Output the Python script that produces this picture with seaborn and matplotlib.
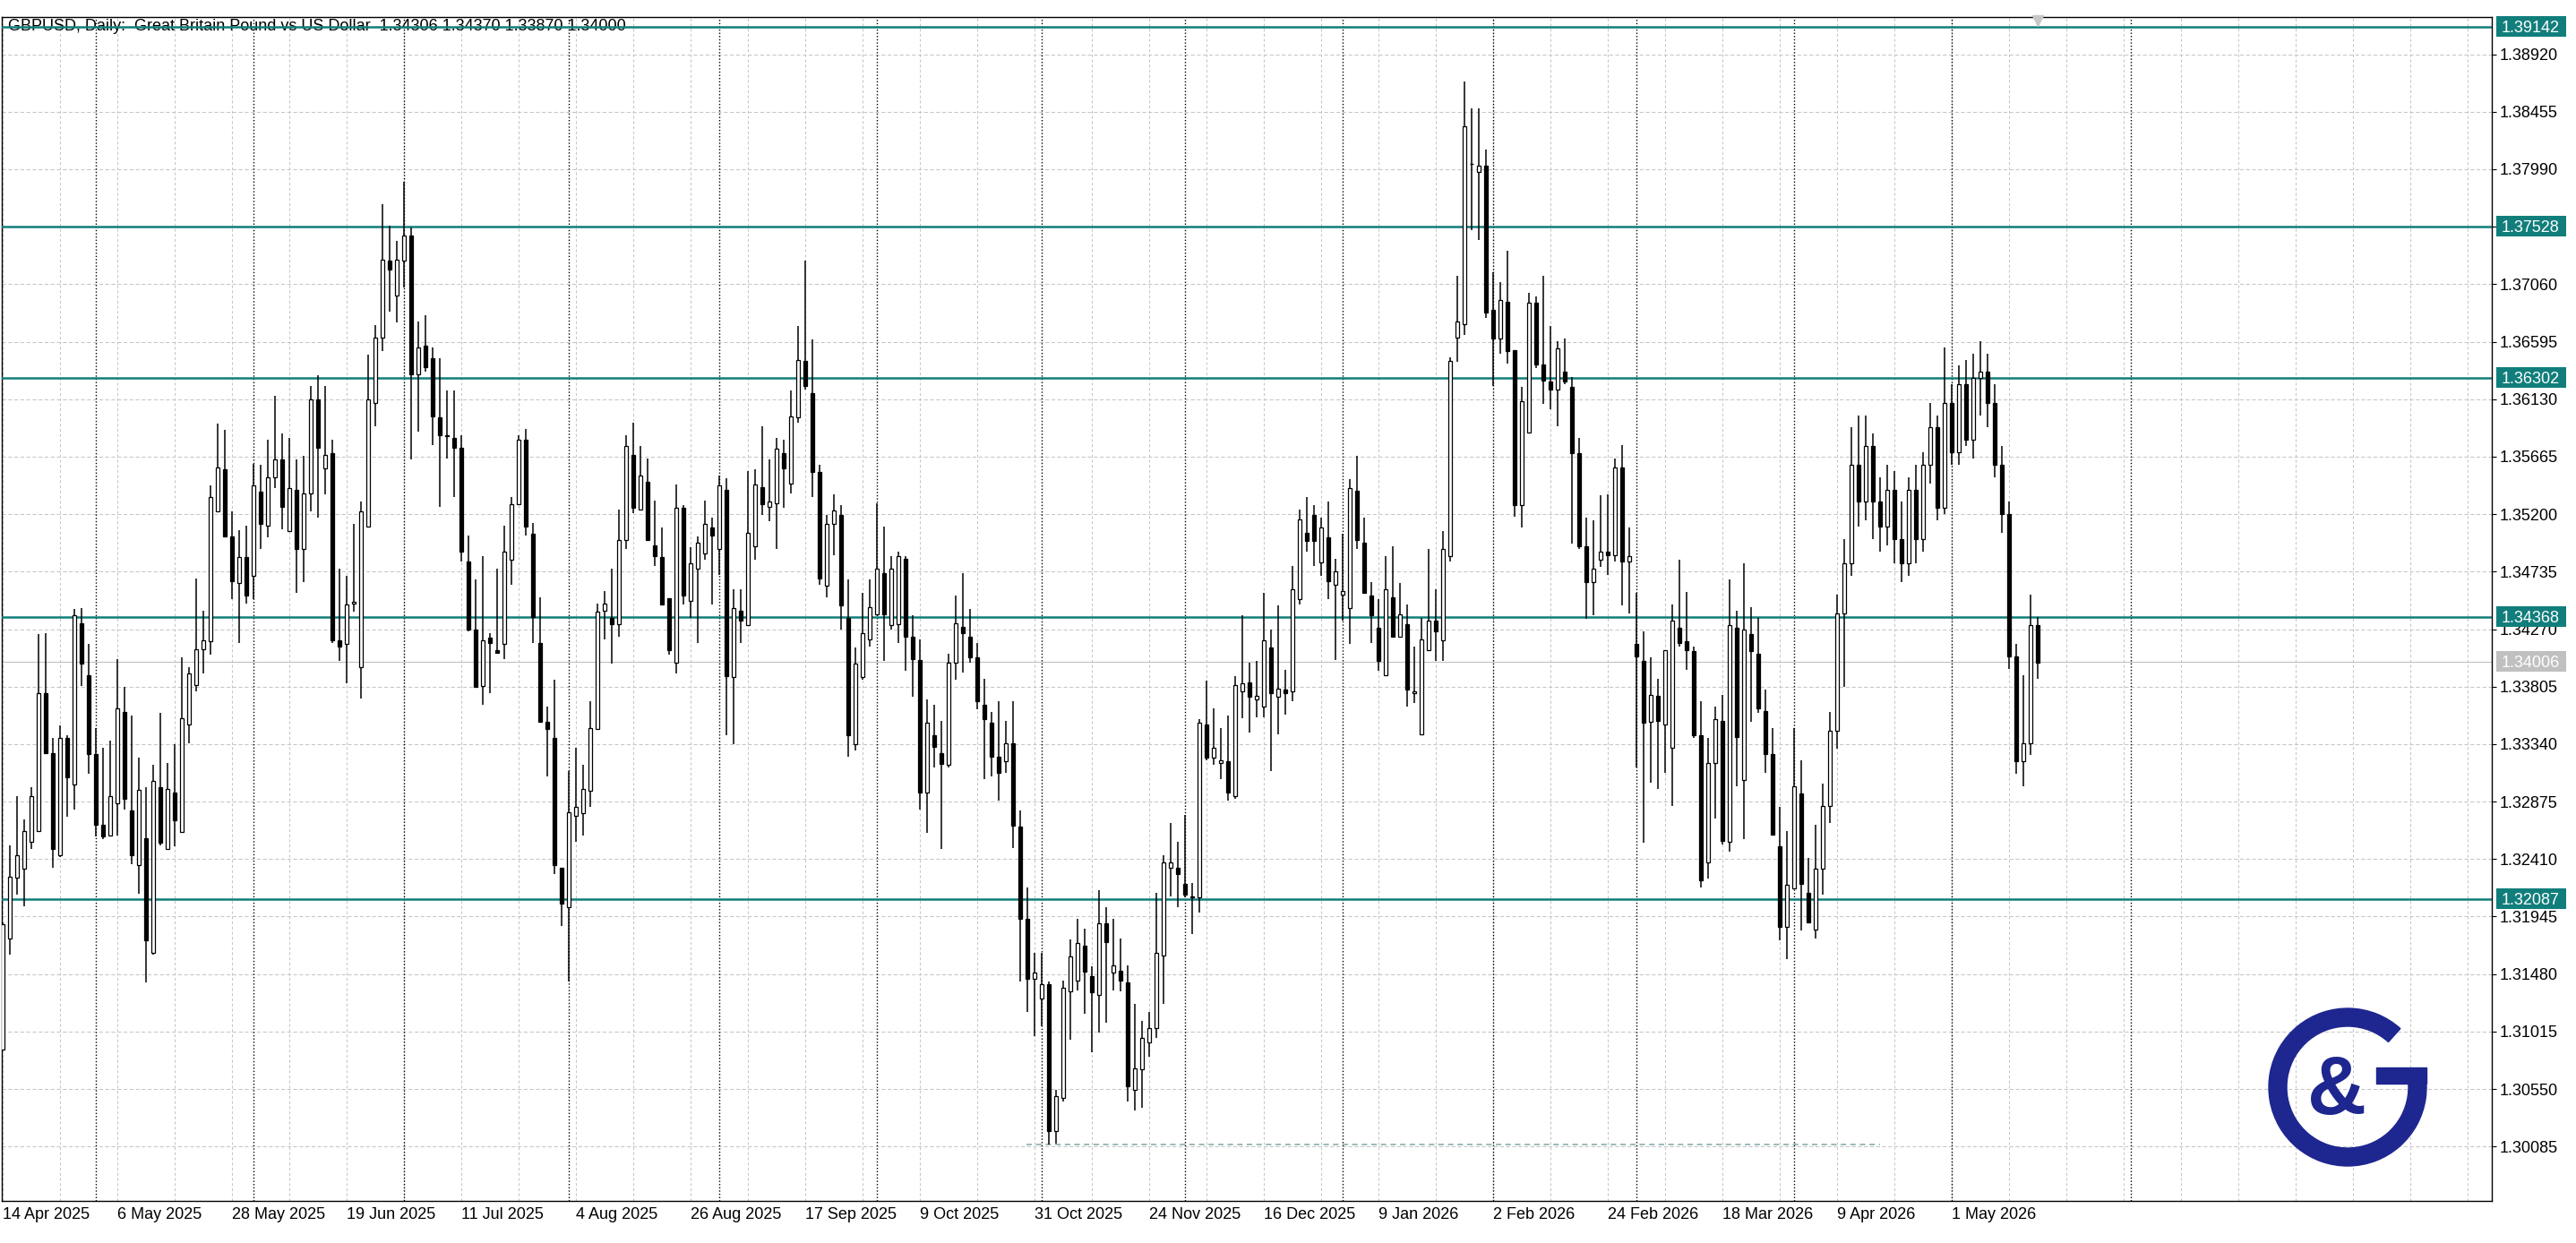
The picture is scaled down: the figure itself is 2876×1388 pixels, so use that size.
import numpy as np
import pandas as pd
import seaborn as sns
import matplotlib.pyplot as plt
from matplotlib.patches import Rectangle, Wedge
from matplotlib.transforms import blended_transform_factory

# daily GBPUSD candles (index = trading day from 14 Apr 2025)
opens = [
    1.3087, 1.3177, 1.3226, 1.3233, 1.3255, 1.3264, 1.3375, 1.3327, 1.3244, 1.3339,
    1.3301, 1.3432, 1.3390, 1.3326, 1.3269, 1.3260, 1.3286, 1.3360, 1.3280, 1.3236,
    1.3258, 1.3165, 1.3299, 1.3249, 1.3295, 1.3263, 1.3350, 1.3382, 1.3411, 1.3417,
    1.3522, 1.3556, 1.3502, 1.3464, 1.3485, 1.3470, 1.3538, 1.3511, 1.3550, 1.3564,
    1.3506, 1.3540, 1.3492, 1.3537, 1.3613, 1.3557, 1.3569, 1.3418, 1.3415, 1.3448,
    1.3396, 1.3510, 1.3610, 1.3663, 1.3725, 1.3697, 1.3725, 1.3745, 1.3633, 1.3656,
    1.3646, 1.3598, 1.3584, 1.3582, 1.3574, 1.3482, 1.3427, 1.3381, 1.3420, 1.3410,
    1.3415, 1.3483, 1.3528, 1.3580, 1.3504, 1.3416, 1.3352, 1.3339, 1.3234, 1.3202,
    1.3276, 1.3278, 1.3296, 1.3346, 1.3442, 1.3436, 1.3431, 1.3499, 1.3568, 1.3524,
    1.3546, 1.3495, 1.3485, 1.3452, 1.3400, 1.3525, 1.3450, 1.3476, 1.3488, 1.3509,
    1.3492, 1.3540, 1.3388, 1.3442, 1.3430, 1.3494, 1.3542, 1.3526, 1.3529, 1.3569,
    1.3545, 1.3598, 1.3644, 1.3618, 1.3554, 1.3462, 1.3512, 1.3519, 1.3436, 1.3334,
    1.3388, 1.3419, 1.3439, 1.3472, 1.3430, 1.3431, 1.3484, 1.3421, 1.3402, 1.3295,
    1.3341, 1.3327, 1.3317, 1.3400, 1.3429, 1.3421, 1.3404, 1.3366, 1.3351, 1.3324,
    1.3320, 1.3335, 1.3267, 1.3193, 1.3144, 1.3128, 1.3140, 1.3021, 1.3048, 1.3134,
    1.3143, 1.3171, 1.3146, 1.3131, 1.3189, 1.3149, 1.3151, 1.3141, 1.3054, 1.3071,
    1.3093, 1.3104, 1.3163, 1.3234, 1.3234, 1.3221, 1.3211, 1.3210, 1.3350, 1.3323,
    1.3319, 1.3320, 1.3292, 1.3377, 1.3384, 1.3370, 1.3364, 1.3412, 1.3372, 1.3378,
    1.3377, 1.3451, 1.3505, 1.3519, 1.3481, 1.3501, 1.3463, 1.3455, 1.3444, 1.3539,
    1.3497, 1.3454, 1.3428, 1.3390, 1.3453, 1.3421, 1.3431, 1.3375, 1.3342, 1.3410,
    1.3434, 1.3418, 1.3486, 1.3663, 1.3674, 1.3803, 1.3797, 1.3802, 1.3685, 1.3662,
    1.3692, 1.3653, 1.3527, 1.3586, 1.3691, 1.3641, 1.3627, 1.3621, 1.3635, 1.3623,
    1.3569, 1.3494, 1.3465, 1.3483, 1.3490, 1.3487, 1.3558, 1.3482, 1.3415, 1.3401,
    1.3352, 1.3373, 1.3350, 1.3331, 1.3428, 1.3417, 1.3409, 1.3341, 1.3238, 1.3319,
    1.3353, 1.3255, 1.3428, 1.3305, 1.3423, 1.3407, 1.3361, 1.3326, 1.3251, 1.3186,
    1.3217, 1.3294, 1.3214, 1.3184, 1.3233, 1.3284, 1.3345, 1.3440, 1.3480, 1.3560,
    1.3530, 1.3575, 1.3530, 1.3510, 1.3540, 1.3500, 1.3480, 1.3540, 1.3500, 1.3560,
    1.3590, 1.3525, 1.3610, 1.3570, 1.3625, 1.3580, 1.3630, 1.3635, 1.3610, 1.3560,
    1.3520, 1.3405, 1.3320, 1.3335, 1.34306,
]
highs = [
    1.3190, 1.3252, 1.3292, 1.3273, 1.3299, 1.3423, 1.3424, 1.3339, 1.3349, 1.3341,
    1.3443, 1.3444, 1.3415, 1.3347, 1.3331, 1.3337, 1.3403, 1.3380, 1.3357, 1.3323,
    1.3299, 1.3317, 1.3359, 1.3319, 1.3334, 1.3404, 1.3396, 1.3468, 1.3442, 1.3543,
    1.3593, 1.3588, 1.3522, 1.3507, 1.3511, 1.3561, 1.3560, 1.3580, 1.3616, 1.3585,
    1.3582, 1.3564, 1.3567, 1.3624, 1.3632, 1.3624, 1.3580, 1.3476, 1.3470, 1.3512,
    1.3530, 1.3649, 1.3673, 1.3771, 1.3753, 1.3741, 1.3789, 1.3752, 1.3676, 1.3681,
    1.3655, 1.3646, 1.3620, 1.3620, 1.3584, 1.3503, 1.3467, 1.3486, 1.3424, 1.3476,
    1.3511, 1.3534, 1.3584, 1.3589, 1.3513, 1.3453, 1.3364, 1.3386, 1.3234, 1.3312,
    1.3331, 1.3317, 1.3369, 1.3448, 1.3458, 1.3476, 1.3524, 1.3584, 1.3594, 1.3575,
    1.3565, 1.3531, 1.3509, 1.3452, 1.3544, 1.3527, 1.3493, 1.3502, 1.3531, 1.3517,
    1.3551, 1.3549, 1.3459, 1.3459, 1.3555, 1.3556, 1.3591, 1.3564, 1.3582, 1.3580,
    1.3620, 1.3672, 1.3725, 1.3661, 1.3560, 1.3519, 1.3536, 1.3527, 1.3467, 1.3412,
    1.3456, 1.3467, 1.3529, 1.3510, 1.3486, 1.3490, 1.3486, 1.3438, 1.3419, 1.3370,
    1.3366, 1.3353, 1.3407, 1.3454, 1.3472, 1.3443, 1.3416, 1.3387, 1.3360, 1.3369,
    1.3353, 1.3369, 1.3280, 1.3218, 1.3165, 1.3165, 1.3142, 1.3054, 1.3143, 1.3176,
    1.3193, 1.3185, 1.3154, 1.3216, 1.3202, 1.3193, 1.3177, 1.3155, 1.3124, 1.3110,
    1.3117, 1.3214, 1.3244, 1.3270, 1.3255, 1.3277, 1.3222, 1.3354, 1.3385, 1.3363,
    1.3347, 1.3357, 1.3389, 1.3438, 1.3400, 1.3401, 1.3456, 1.3427, 1.3446, 1.3394,
    1.3478, 1.3524, 1.3534, 1.3527, 1.3517, 1.3530, 1.3484, 1.3504, 1.3548, 1.3567,
    1.3517, 1.3465, 1.3451, 1.3486, 1.3494, 1.3464, 1.3447, 1.3413, 1.3436, 1.3492,
    1.3459, 1.3506, 1.3647, 1.3713, 1.3870, 1.3848, 1.3848, 1.3815, 1.3716, 1.3708,
    1.3733, 1.3653, 1.3623, 1.3699, 1.3696, 1.3713, 1.3672, 1.3660, 1.3662, 1.3631,
    1.3582, 1.3517, 1.3515, 1.3535, 1.3536, 1.3565, 1.3576, 1.3509, 1.3456, 1.3425,
    1.3404, 1.3387, 1.3410, 1.3447, 1.3483, 1.3457, 1.3413, 1.3369, 1.3339, 1.3364,
    1.3374, 1.3467, 1.3442, 1.3480, 1.3445, 1.3436, 1.3378, 1.3347, 1.3283, 1.3264,
    1.3347, 1.3321, 1.3242, 1.3269, 1.3302, 1.3360, 1.3455, 1.3500, 1.3590, 1.3600,
    1.3600, 1.3585, 1.3550, 1.3560, 1.3555, 1.3530, 1.3550, 1.3560, 1.3570, 1.3610,
    1.3600, 1.3655, 1.3625, 1.3640, 1.3645, 1.3650, 1.3660, 1.3650, 1.3625, 1.3575,
    1.3530, 1.3415, 1.3390, 1.3455, 1.34370,
]
lows = [
    1.3086, 1.3164, 1.3212, 1.3203, 1.3249, 1.3263, 1.3326, 1.3234, 1.3243, 1.3275,
    1.3281, 1.3381, 1.3310, 1.3259, 1.3257, 1.3260, 1.3260, 1.3281, 1.3237, 1.3213,
    1.3141, 1.3164, 1.3252, 1.3249, 1.3251, 1.3263, 1.3335, 1.3377, 1.3391, 1.3406,
    1.3522, 1.3501, 1.3451, 1.3416, 1.3448, 1.3451, 1.3492, 1.3501, 1.3541, 1.3508,
    1.3506, 1.3456, 1.3465, 1.3522, 1.3517, 1.3536, 1.3416, 1.3401, 1.3383, 1.3441,
    1.3371, 1.3510, 1.3591, 1.3652, 1.3684, 1.3675, 1.3703, 1.3564, 1.3587, 1.3635,
    1.3576, 1.3526, 1.3565, 1.3534, 1.3482, 1.3425, 1.3380, 1.3366, 1.3375, 1.3407,
    1.3403, 1.3463, 1.3527, 1.3503, 1.3416, 1.3352, 1.3308, 1.3229, 1.3187, 1.3142,
    1.3255, 1.3260, 1.3283, 1.3346, 1.3419, 1.3399, 1.3421, 1.3492, 1.3521, 1.3524,
    1.3499, 1.3478, 1.3447, 1.3406, 1.3391, 1.3447, 1.3436, 1.3416, 1.3483, 1.3447,
    1.3471, 1.3341, 1.3334, 1.3416, 1.3430, 1.3483, 1.3519, 1.3514, 1.3492, 1.3525,
    1.3537, 1.3594, 1.3621, 1.3534, 1.3463, 1.3453, 1.3487, 1.3427, 1.3324, 1.3329,
    1.3386, 1.3413, 1.3439, 1.3401, 1.3427, 1.3416, 1.3393, 1.3372, 1.3281, 1.3262,
    1.3315, 1.3249, 1.3315, 1.3386, 1.3392, 1.3400, 1.3362, 1.3306, 1.3308, 1.3288,
    1.3311, 1.3250, 1.3142, 1.3117, 1.3098, 1.3106, 1.3010, 1.3011, 1.3045, 1.3095,
    1.3135, 1.3116, 1.3085, 1.3101, 1.3109, 1.3135, 1.3134, 1.3045, 1.3038, 1.3040,
    1.3081, 1.3096, 1.3124, 1.3211, 1.3202, 1.3210, 1.3180, 1.3198, 1.3321, 1.3317,
    1.3306, 1.3288, 1.3290, 1.3355, 1.3343, 1.3356, 1.3356, 1.3312, 1.3342, 1.3358,
    1.3369, 1.3447, 1.3490, 1.3478, 1.3470, 1.3451, 1.3402, 1.3434, 1.3415, 1.3492,
    1.3456, 1.3416, 1.3393, 1.3390, 1.3421, 1.3421, 1.3364, 1.3367, 1.3342, 1.3410,
    1.3401, 1.3401, 1.3482, 1.3643, 1.3665, 1.3750, 1.3742, 1.3679, 1.3624, 1.3650,
    1.3642, 1.3518, 1.3509, 1.3586, 1.3638, 1.3609, 1.3605, 1.3591, 1.3625, 1.3496,
    1.3492, 1.3435, 1.3438, 1.3477, 1.3471, 1.3482, 1.3446, 1.3440, 1.3315, 1.3254,
    1.3303, 1.3298, 1.3311, 1.3284, 1.3413, 1.3394, 1.3339, 1.3218, 1.3225, 1.3274,
    1.3253, 1.3247, 1.3300, 1.3257, 1.3352, 1.3359, 1.3311, 1.3261, 1.3175, 1.3160,
    1.3217, 1.3183, 1.3189, 1.3177, 1.3212, 1.3270, 1.3330, 1.3380, 1.3470, 1.3510,
    1.3515, 1.3500, 1.3490, 1.3495, 1.3480, 1.3465, 1.3470, 1.3480, 1.3490, 1.3545,
    1.3515, 1.3520, 1.3560, 1.3560, 1.3575, 1.3565, 1.3600, 1.3590, 1.3550, 1.3505,
    1.3395, 1.3310, 1.3300, 1.3325, 1.33870,
]
closes = [
    1.3188, 1.3227, 1.3244, 1.3264, 1.3292, 1.3375, 1.3327, 1.3249, 1.3339, 1.3307,
    1.3438, 1.3399, 1.3326, 1.3269, 1.3259, 1.3292, 1.3363, 1.3290, 1.3244, 1.3297,
    1.3175, 1.3304, 1.3254, 1.3298, 1.3272, 1.3355, 1.3391, 1.3411, 1.3418, 1.3534,
    1.3558, 1.3502, 1.3466, 1.3485, 1.3454, 1.3543, 1.3512, 1.3550, 1.3564, 1.3526,
    1.3541, 1.3492, 1.3537, 1.3613, 1.3574, 1.3568, 1.3418, 1.3413, 1.3447, 1.3449,
    1.3522, 1.3613, 1.3663, 1.3726, 1.3718, 1.3726, 1.3745, 1.3633, 1.3655, 1.3639,
    1.3599, 1.3584, 1.3583, 1.3574, 1.3490, 1.3427, 1.3380, 1.3418, 1.3416, 1.3408,
    1.3490, 1.3528, 1.3580, 1.3510, 1.3437, 1.3352, 1.3346, 1.3236, 1.3205, 1.3279,
    1.3283, 1.3298, 1.3347, 1.3441, 1.3448, 1.3431, 1.3499, 1.3575, 1.3525, 1.3551,
    1.3499, 1.3486, 1.3447, 1.3410, 1.3525, 1.3454, 1.3480, 1.3497, 1.3512, 1.3503,
    1.3543, 1.3389, 1.3444, 1.3434, 1.3505, 1.3544, 1.3528, 1.3530, 1.3573, 1.3557,
    1.3599, 1.3645, 1.3624, 1.3554, 1.3468, 1.3512, 1.3523, 1.3446, 1.3341, 1.3399,
    1.3424, 1.3445, 1.3476, 1.3439, 1.3476, 1.3486, 1.3421, 1.3403, 1.3295, 1.3351,
    1.3332, 1.3318, 1.3400, 1.3432, 1.3424, 1.3404, 1.3369, 1.3354, 1.3324, 1.3311,
    1.3335, 1.3268, 1.3193, 1.3144, 1.3149, 1.3140, 1.3021, 1.3049, 1.3137, 1.3162,
    1.3173, 1.3150, 1.3133, 1.3189, 1.3174, 1.3155, 1.3143, 1.3057, 1.3072, 1.3096,
    1.3104, 1.3165, 1.3238, 1.3238, 1.3229, 1.3212, 1.3210, 1.3351, 1.3323, 1.3331,
    1.3321, 1.3295, 1.3382, 1.3383, 1.3372, 1.3373, 1.3418, 1.3375, 1.3379, 1.3375,
    1.3459, 1.3516, 1.3498, 1.3498, 1.3509, 1.3466, 1.3474, 1.3458, 1.3541, 1.3499,
    1.3456, 1.3438, 1.3401, 1.3459, 1.3421, 1.3439, 1.3378, 1.3377, 1.3419, 1.3434,
    1.3425, 1.3492, 1.3644, 1.3676, 1.3834, 1.3803, 1.3802, 1.3683, 1.3662, 1.3693,
    1.3652, 1.3527, 1.3611, 1.3691, 1.3641, 1.3628, 1.3621, 1.3654, 1.3627, 1.3569,
    1.3494, 1.3465, 1.3476, 1.3490, 1.3487, 1.3558, 1.3482, 1.3486, 1.3405, 1.3351,
    1.3374, 1.3353, 1.3410, 1.3434, 1.3416, 1.3410, 1.3341, 1.3224, 1.3319, 1.3354,
    1.3256, 1.3430, 1.3340, 1.3427, 1.3409, 1.3363, 1.3326, 1.3261, 1.3186, 1.3220,
    1.3300, 1.3221, 1.3190, 1.3233, 1.3284, 1.3345, 1.3440, 1.3480, 1.3560, 1.3530,
    1.3575, 1.3530, 1.3510, 1.3540, 1.3500, 1.3480, 1.3540, 1.3500, 1.3560, 1.3590,
    1.3525, 1.3610, 1.3570, 1.3625, 1.3580, 1.3630, 1.3635, 1.3610, 1.3560, 1.3520,
    1.3405, 1.3320, 1.3335, 1.3430, 1.34000,
]

date_labels = ['14 Apr 2025', '6 May 2025', '28 May 2025', '19 Jun 2025', '11 Jul 2025',
               '4 Aug 2025', '26 Aug 2025', '17 Sep 2025', '9 Oct 2025', '31 Oct 2025',
               '24 Nov 2025', '16 Dec 2025', '9 Jan 2026', '2 Feb 2026', '24 Feb 2026',
               '18 Mar 2026', '9 Apr 2026', '1 May 2026']
date_label_idx = [0, 16, 32, 48, 64, 80, 96, 112, 128, 144, 160, 176, 192, 208, 224, 240, 256, 272]
month_start_idx = [13, 35, 56, 79, 100, 122, 145, 165, 187, 208, 228, 250, 272, 297]

price_ticks = [1.38920, 1.38455, 1.37990, 1.37525, 1.37060, 1.36595, 1.36130, 1.35665,
               1.35200, 1.34735, 1.34270, 1.33805, 1.33340, 1.32875, 1.32410, 1.31945,
               1.31480, 1.31015, 1.30550, 1.30085]
levels = [1.39142, 1.37528, 1.36302, 1.34368, 1.32087]
bid_price = 1.34006
low_line = 1.30102
title = 'GBPUSD, Daily:  Great Britain Pound vs US Dollar  1.34306 1.34370 1.33870 1.34000'

df = pd.DataFrame({'open': opens, 'high': highs, 'low': lows, 'close': closes})
df['i'] = np.arange(len(df))
df['bull'] = df['close'] >= df['open']

TEAL = '#117e7b'
GRID = '#c6c6c6'
NAVY = '#1e2690'

sns.set_theme(style='white')
plt.rcParams['font.family'] = ['Liberation Sans', 'DejaVu Sans']

W, H = 2876, 1388
fig = plt.figure(figsize=(W / 100, H / 100), dpi=100)
fig.patch.set_facecolor('white')
ax = fig.add_axes([2 / W, 1 - 1341 / H, 2780 / W, 1322 / H])
ax.set_facecolor('white')
ymin, ymax = 1.29645, 1.39221
ax.set_xlim(-0.125, 347.375)
ax.set_ylim(ymin, ymax)
px_price = (ymax - ymin) / 1322

# grid and month separators
for v in price_ticks:
    ax.axhline(v, color=GRID, lw=0.75, ls=(0, (4, 2.5)), zorder=1)
for i in range(0, 348, 8):
    ax.axvline(i, color=GRID, lw=0.75, ls=(0, (3, 2.5)), zorder=1)
for i in month_start_idx:
    ax.axvline(i, color='black', lw=1.0, ls=(0, (1.0, 1.6)), zorder=1.5)

ax.text(7 / 2780, 1 - 11 / 1322, title, transform=ax.transAxes, fontsize=13,
        ha='left', va='center', color='black', zorder=2)

# levels and markers
ax.axhline(bid_price, color='#c0c0c0', lw=0.8, zorder=2)
for v in levels:
    ax.axhline(v, color=TEAL, lw=1.8, zorder=3)
ax.hlines(low_line, 142.9, 262, color='#7fa8a4', lw=1.1, ls=(0, (4, 3)), zorder=2)

# candles
ax.vlines(df['i'], df['low'], df['high'], color='black', lw=1.1, zorder=4)
body_lo = np.minimum(df['open'], df['close'])
body_h = np.maximum((df['close'] - df['open']).abs(), 0.00003)
ax.bar(df['i'], body_h, bottom=body_lo, width=0.58,
       color=np.where(df['bull'], 'white', 'black'), edgecolor='black',
       linewidth=0.9, zorder=5)

ax.plot([284], [1 - 4 / 1322], marker='v', ms=9, color='#c8c8c8', ls='none',
        transform=ax.get_xaxis_transform(), clip_on=False, zorder=6)

# axes
ax.yaxis.tick_right()
ax.set_yticks(price_ticks)
ax.set_yticklabels([f'{v:.5f}' for v in price_ticks])
ax.tick_params(axis='y', direction='out', length=3.5, width=0.8, pad=2.5,
               labelsize=13, colors='black')
ax.set_xticks(date_label_idx)
ax.set_xticklabels(date_labels, ha='left')
ax.set_xticks(range(0, 348, 8), minor=True)
ax.tick_params(axis='x', which='both', direction='in', length=4, width=0.8, pad=5,
               labelsize=13, colors='black')
for s in ax.spines.values():
    s.set_visible(True)
    s.set_color('black')
    s.set_linewidth(1.0)

tr = blended_transform_factory(ax.transAxes, ax.transData)
box_x0 = (2787 - 2) / 2780
box_w = 78 / 2780
box_h = 23 * px_price
for v, col in [(v, TEAL) for v in levels] + [(bid_price, '#c0c0c0')]:
    ax.add_patch(Rectangle((box_x0, v - box_h / 2), box_w, box_h, transform=tr,
                           facecolor=col, edgecolor='none', clip_on=False, zorder=6))
    ax.text((2793 - 2) / 2780, v, f'{v:.5f}', transform=tr, color='white', fontsize=13,
            ha='left', va='center_baseline', clip_on=False, zorder=7)

# logo (pixel coordinates, y down)
lax = fig.add_axes([0, 0, 1, 1])
lax.set_xlim(0, W)
lax.set_ylim(H, 0)
lax.axis('off')
lax.patch.set_alpha(0)
cx, cy = 2621, 1214
lax.add_patch(Wedge((cx, cy), 88, -12, 312, width=20, color=NAVY))
lax.add_patch(Rectangle((cx + 32, cy - 22), 56, 18, color=NAVY))
lax.text(cx - 12, cy + 6, '&', fontsize=66, color=NAVY, fontweight='bold',
         ha='center', va='center')

fig.savefig('out.png', dpi=100, facecolor='white')
